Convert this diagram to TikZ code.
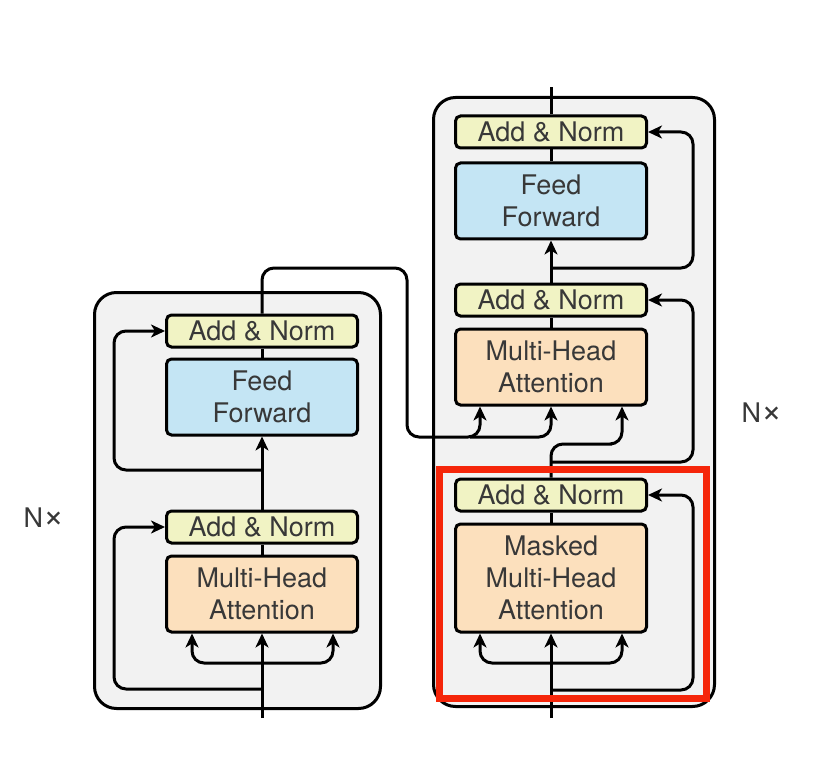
\documentclass[tikz,border=0pt]{standalone}
\usepackage{fontspec}
\setmainfont{TeX Gyre Heros}
\usetikzlibrary{arrows.meta}

\definecolor{normfill}{HTML}{F1F3C4}
\definecolor{fffill}{HTML}{C4E5F4}
\definecolor{attfill}{HTML}{FCE0BD}
\definecolor{layerfill}{HTML}{F2F2F2}
\definecolor{inktext}{HTML}{383838}
\definecolor{hilite}{HTML}{F5260A}

\newcommand{\repeatN}{N{\fontsize{36}{32}\selectfont ×}}

\begin{document}
\begin{tikzpicture}[
        x=1pt, y=-1pt,
        every node/.style={
            font=\fontsize{27}{32}\selectfont,
            text=inktext,
            align=center
        },
        layer/.style={draw, line width=3pt, fill=layerfill, rounded corners=22pt},
        sublayer/.style={draw, line width=3pt, rounded corners=5pt,
            minimum width=191pt, inner sep=0pt},
        addnorm/.style={sublayer, fill=normfill, minimum height=32pt},
        ffn/.style={sublayer, fill=fffill, minimum height=76pt},
        attn/.style={sublayer, fill=attfill, minimum height=76pt},
        wire/.style={line width=3pt, rounded corners=12pt},
        arr/.style={wire, -{Stealth[length=14pt,width=13pt,inset=4pt]}}
    ]
        \useasboundingbox (0,0) rectangle (838,762);

        % Encoder
        \node[layer, minimum width=286pt, minimum height=416pt] (encbox) at (237.5,500.5) {};
        \node[addnorm] (encnorm2) at (262,331) {Add \& Norm};
        \node[ffn] (encff) at (262,397) {Feed\\Forward};
        \node[addnorm] (encnorm1) at (262,527) {Add \& Norm};
        \node[attn] (encatt) at (262,594) {Multi-Head\\Attention};
        \node (encrep) at (44,518) {\repeatN};

        % Decoder
        \node[layer, minimum width=281pt, minimum height=609pt] (decbox) at (574,402) {};
        \node[addnorm] (decnorm3) at (551,132) {Add \& Norm};
        \node[ffn] (decff) at (551,201) {Feed\\Forward};
        \node[addnorm] (decnorm2) at (551,300) {Add \& Norm};
        \node[attn] (decatt) at (551,367) {Multi-Head\\Attention};
        \node[addnorm] (decnorm1) at (551,495) {Add \& Norm};
        \node[attn, minimum height=108pt] (decmask) at (551,578) {Masked\\Multi-Head\\Attention};
        \node (decrep) at (762,413) {\repeatN};

        \coordinate (encin) at (262,718);
        \coordinate (decin) at (551,718);
        \coordinate (decout) at (551,87);

        % encoder wires
        \draw[arr] (encin) -- (encatt.south);
        \draw[arr] (262,663) -| ([xshift=-70pt]encatt.south);
        \draw[arr] (262,663) -| ([xshift=71pt]encatt.south);
        \draw[wire] (encatt.north) -- (encnorm1.south);
        \draw[arr] (262,689) -| (114,527) -- (encnorm1.west);
        \draw[arr] (encnorm1.north) -- (encff.south);
        \draw[arr] (262,470) -| (114,331) -- (encnorm2.west);
        \draw[wire] (encff.north) -- (encnorm2.south);

        % encoder output into decoder
        \draw[arr] (encnorm2.north) |- (407,268) |- (480,437) -- ([xshift=-71pt]decatt.south);
        \draw[arr] (470,437) -| (decatt.south);

        % decoder wires
        \draw[arr] (decin) -- (decmask.south);
        \draw[arr] (551,663) -| ([xshift=-71pt]decmask.south);
        \draw[arr] (551,663) -| ([xshift=71pt]decmask.south);
        \draw[wire] (decmask.north) -- (decnorm1.south);
        \draw[arr] (551,690) -| (693,495) -- (decnorm1.east);
        \draw[arr] (decnorm1.north) |- (600,444) -| ([xshift=71pt]decatt.south);
        \draw[arr] (551,462) -| (693,300) -- (decnorm2.east);
        \draw[wire] (decatt.north) -- (decnorm2.south);
        \draw[arr] (decnorm2.north) -- (decff.south);
        \draw[arr] (551,268) -| (693,132) -- (decnorm3.east);
        \draw[wire] (decff.north) -- (decnorm3.south);
        \draw[wire] (decnorm3.north) -- (decout);

        % highlight
        \draw[hilite, line width=7pt] (439,469) rectangle (706,698);
    \end{tikzpicture}
\end{document}
